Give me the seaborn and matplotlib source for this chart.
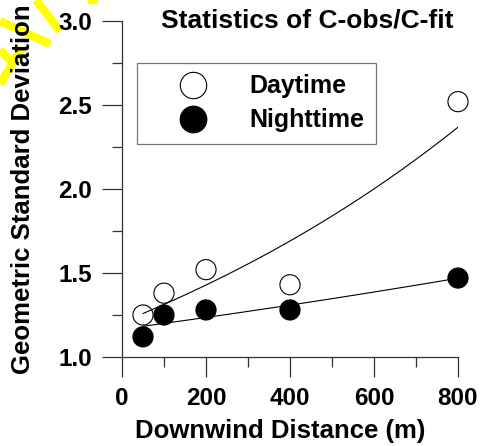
import numpy as np
import pandas as pd
import seaborn as sns
import matplotlib
matplotlib.use("Agg")
import matplotlib.pyplot as plt
from matplotlib.lines import Line2D
from matplotlib.ticker import MultipleLocator

# Observed geometric standard deviation of C-obs/C-fit vs. downwind distance
distance = [50, 100, 200, 400, 800]
daytime = [1.25, 1.38, 1.52, 1.43, 2.52]
nighttime = [1.12, 1.25, 1.28, 1.28, 1.47]

x_ticks = [0, 200, 400, 600, 800]
y_ticks = [1.0, 1.5, 2.0, 2.5, 3.0]

sns.set_theme(style="ticks")
plt.rcParams["font.family"] = ["Liberation Sans", "DejaVu Sans"]
plt.rcParams["font.weight"] = "bold"
for key in ("text.color", "axes.labelcolor", "xtick.labelcolor", "ytick.labelcolor"):
    plt.rcParams[key] = "black"

df = pd.DataFrame({
    "distance": distance * 2,
    "gsd": daytime + nighttime,
    "period": ["Daytime"] * len(distance) + ["Nighttime"] * len(distance),
})

fig = plt.figure(figsize=(4.8, 4.46), dpi=100)
W, H = 480, 446
ax = fig.add_axes([122 / W, 1 - 357 / H, 336 / W, 336 / H])

# decorative yellow strokes in the upper-left corner
for (x0, y0), (x1, y1) in [((0, 21), (50, 44)), ((36, 0), (60, 31)),
                           ((0, 84), (22, 48)), ((0, 50), (14, 64)),
                           ((88, 0), (97, 0))]:
    fig.add_artist(Line2D([x0 / W, x1 / W], [1 - y0 / H, 1 - y1 / H],
                          transform=fig.transFigure, color="#ffff00",
                          lw=6, solid_capstyle="butt", zorder=-5))

sns.scatterplot(data=df, x="distance", y="gsd", hue="period",
                palette={"Daytime": "white", "Nighttime": "black"},
                edgecolor="black", linewidth=0.8, s=210, legend=False,
                ax=ax, clip_on=False, zorder=2)

# exponential least-squares fits through each series
xf = np.linspace(min(distance), max(distance), 200)
for vals in (daytime, nighttime):
    b, a = np.polyfit(distance, np.log(vals), 1)
    ax.plot(xf, np.exp(a + b * xf), color="black", lw=0.8, zorder=3)

ax.set_xlim(0, 800)
ax.set_ylim(1.0, 3.0)
ax.set_xticks(x_ticks)
ax.set_yticks(y_ticks)
ax.set_xticklabels([str(v) for v in x_ticks])
ax.set_yticklabels([f"{v:.1f}" for v in y_ticks])
ax.xaxis.set_minor_locator(MultipleLocator(100))
ax.yaxis.set_minor_locator(MultipleLocator(0.25))
ax.tick_params(which="major", direction="out", length=14.4, width=0.9,
               color="#333333", labelcolor="black", labelsize=17.5, pad=7)
ax.tick_params(which="minor", direction="out", length=7.2, width=0.9,
               color="#333333")
for lab in ax.get_xticklabels() + ax.get_yticklabels():
    lab.set_fontweight("bold")
sns.despine(ax=ax)
for side in ("left", "bottom"):
    ax.spines[side].set_color("#333333")
    ax.spines[side].set_linewidth(0.9)

ax.set_xlabel("Downwind Distance (m)", fontsize=18.5, fontweight="bold",
              color="black")
ax.xaxis.set_label_coords((280 - 122) / 336, (357 - 438) / 336)
ax.xaxis.label.set_va("baseline")
ax.set_ylabel("Geometric Standard Deviation", fontsize=18.5, fontweight="bold",
              color="black")
ax.yaxis.set_label_coords((23 - 122) / 336, 0.5)
ax.yaxis.label.set_va("center")

fig.text(307 / W, 1 - 27 / H, "Geometric Std. Dev. (GSD)\nStatistics of C-obs/C-fit",
         ha="center", va="baseline", multialignment="center", linespacing=1.45,
         fontsize=19, fontweight="bold", color="black")

handles = [
    Line2D([], [], ls="none", marker="o", markersize=19, markerfacecolor="white",
           markeredgecolor="black", markeredgewidth=0.8),
    Line2D([], [], ls="none", marker="o", markersize=19, markerfacecolor="black",
           markeredgecolor="black"),
]
leg = ax.legend(handles, ["Daytime", "Nighttime"], loc="upper left",
                bbox_to_anchor=((137 - 122) / 336, 1 - (63 - 21) / 336),
                borderaxespad=0, frameon=True, fancybox=False,
                prop={"size": 18, "weight": "bold"}, handletextpad=0.45,
                labelspacing=0.4, borderpad=0.45, handlelength=3.6)
leg.get_frame().set_edgecolor("#555555")
leg.get_frame().set_linewidth(0.9)
for t in leg.get_texts():
    t.set_color("black")

fig.savefig("out.png", dpi=100)
